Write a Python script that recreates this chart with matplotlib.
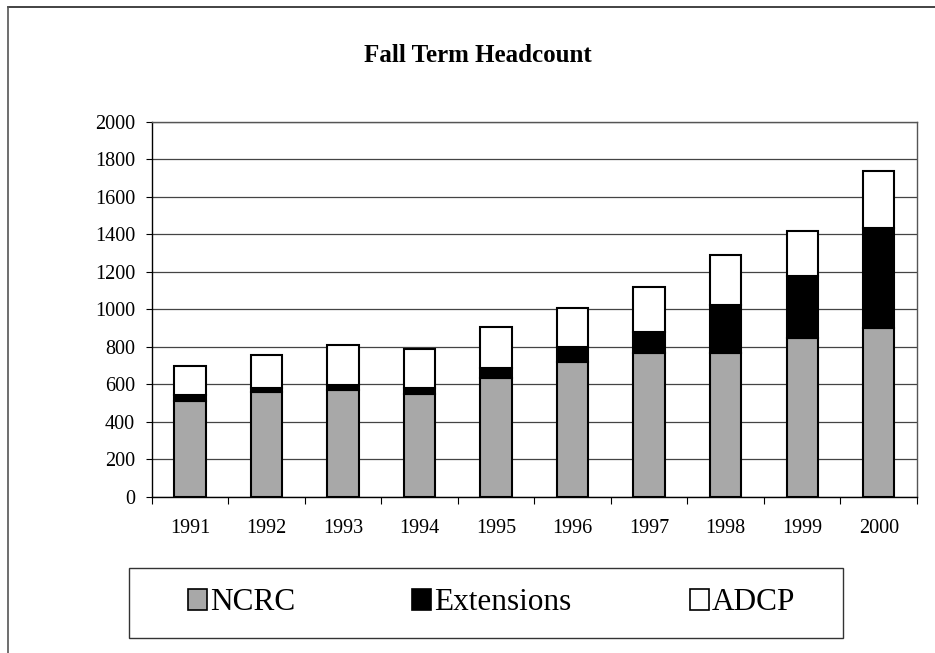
import matplotlib
matplotlib.use("Agg")
import matplotlib.pyplot as plt
import matplotlib.patches as mpatches
from matplotlib.lines import Line2D
import numpy as np

years = ["1991", "1992", "1993", "1994", "1995", "1996", "1997", "1998", "1999", "2000"]
ncrc = [510, 557, 570, 548, 632, 720, 768, 765, 848, 898]
extensions = [30, 24, 26, 33, 53, 77, 112, 257, 327, 533]
adcp = [155, 175, 213, 208, 222, 211, 238, 269, 244, 306]
yticks = [0, 200, 400, 600, 800, 1000, 1200, 1400, 1600, 1800, 2000]
series_names = ["NCRC", "Extensions", "ADCP"]

plt.rcParams['font.family'] = ['Liberation Serif', 'DejaVu Serif']

W, H = 935, 653
fig = plt.figure(figsize=(W / 100, H / 100), dpi=100)
ax = fig.add_axes([151.7 / W, 1 - 496.7 / H, (917 - 151.7) / W, (496.7 - 121.7) / H])

x = np.arange(len(years))
bw = 0.41
gray = '#a8a8a8'
ncrc_arr = np.array(ncrc)
ext_arr = np.array(extensions)
adcp_arr = np.array(adcp)
b1 = ax.bar(x, ncrc_arr, bw, color=gray, edgecolor='black', linewidth=1.5, zorder=3)
b2 = ax.bar(x, ext_arr, bw, bottom=ncrc_arr, color='black', edgecolor='black', linewidth=1.5, zorder=3)
b3 = ax.bar(x, adcp_arr, bw, bottom=ncrc_arr + ext_arr, color='white', edgecolor='black', linewidth=1.5, zorder=3)

ax.set_xlim(-0.5, len(years) - 0.5)
ax.set_ylim(0, 2000)
ax.set_yticks(yticks)
ax.set_yticklabels([str(v) for v in yticks], fontsize=14.5)
ax.yaxis.grid(True, color='#444444', linewidth=0.9, zorder=0)
ax.set_axisbelow(True)

ax.set_xticks(x)
ax.set_xticklabels(years, fontsize=14.5)
ax.set_xticks(np.arange(len(years) + 1) - 0.5, minor=True)
ax.tick_params(axis='x', which='major', length=0, pad=16)
ax.tick_params(axis='x', which='minor', length=5, direction='out', color='black', width=0.8)
ax.tick_params(axis='y', length=4, direction='out', pad=8, width=0.8)

for s in ['left', 'bottom']:
    ax.spines[s].set_color('black')
    ax.spines[s].set_linewidth(1.0)
for s in ['top', 'right']:
    ax.spines[s].set_color('#555555')
    ax.spines[s].set_linewidth(1.0)

fig.text(478 / W, 1 - 55 / H, "Fall Term Headcount", ha='center', va='center',
         fontsize=18, fontweight='bold')

# outer frame (top and left edges)
fig.add_artist(Line2D([7.5 / W, 1.0], [1 - 6.7 / H, 1 - 6.7 / H], color='#222222', linewidth=1.2, transform=fig.transFigure))
fig.add_artist(Line2D([7.5 / W, 7.5 / W], [1 - 6.7 / H, 0], color='#555555', linewidth=1.2, transform=fig.transFigure))

# legend frame
fig.add_artist(mpatches.Rectangle((129.3 / W, 1 - 638.3 / H), (843 - 129.3) / W, (638.3 - 568.3) / H,
                                  transform=fig.transFigure, facecolor='white', edgecolor='#333333', linewidth=1.0))
handles = [b1[0], b2[0], b3[0]]
lefts = [188, 412, 690]
for h, name, lx in zip(handles, series_names, lefts):
    leg = fig.legend([h], [name], frameon=False, loc='center left',
                     bbox_to_anchor=(lx / W, 1 - 603 / H), borderpad=0, borderaxespad=0,
                     fontsize=22.5, handlelength=0.61, handleheight=0.61, handletextpad=0.1)
    for lh in leg.legend_handles:
        lh.set_linewidth(1.2)

fig.savefig("out.png", dpi=100)
